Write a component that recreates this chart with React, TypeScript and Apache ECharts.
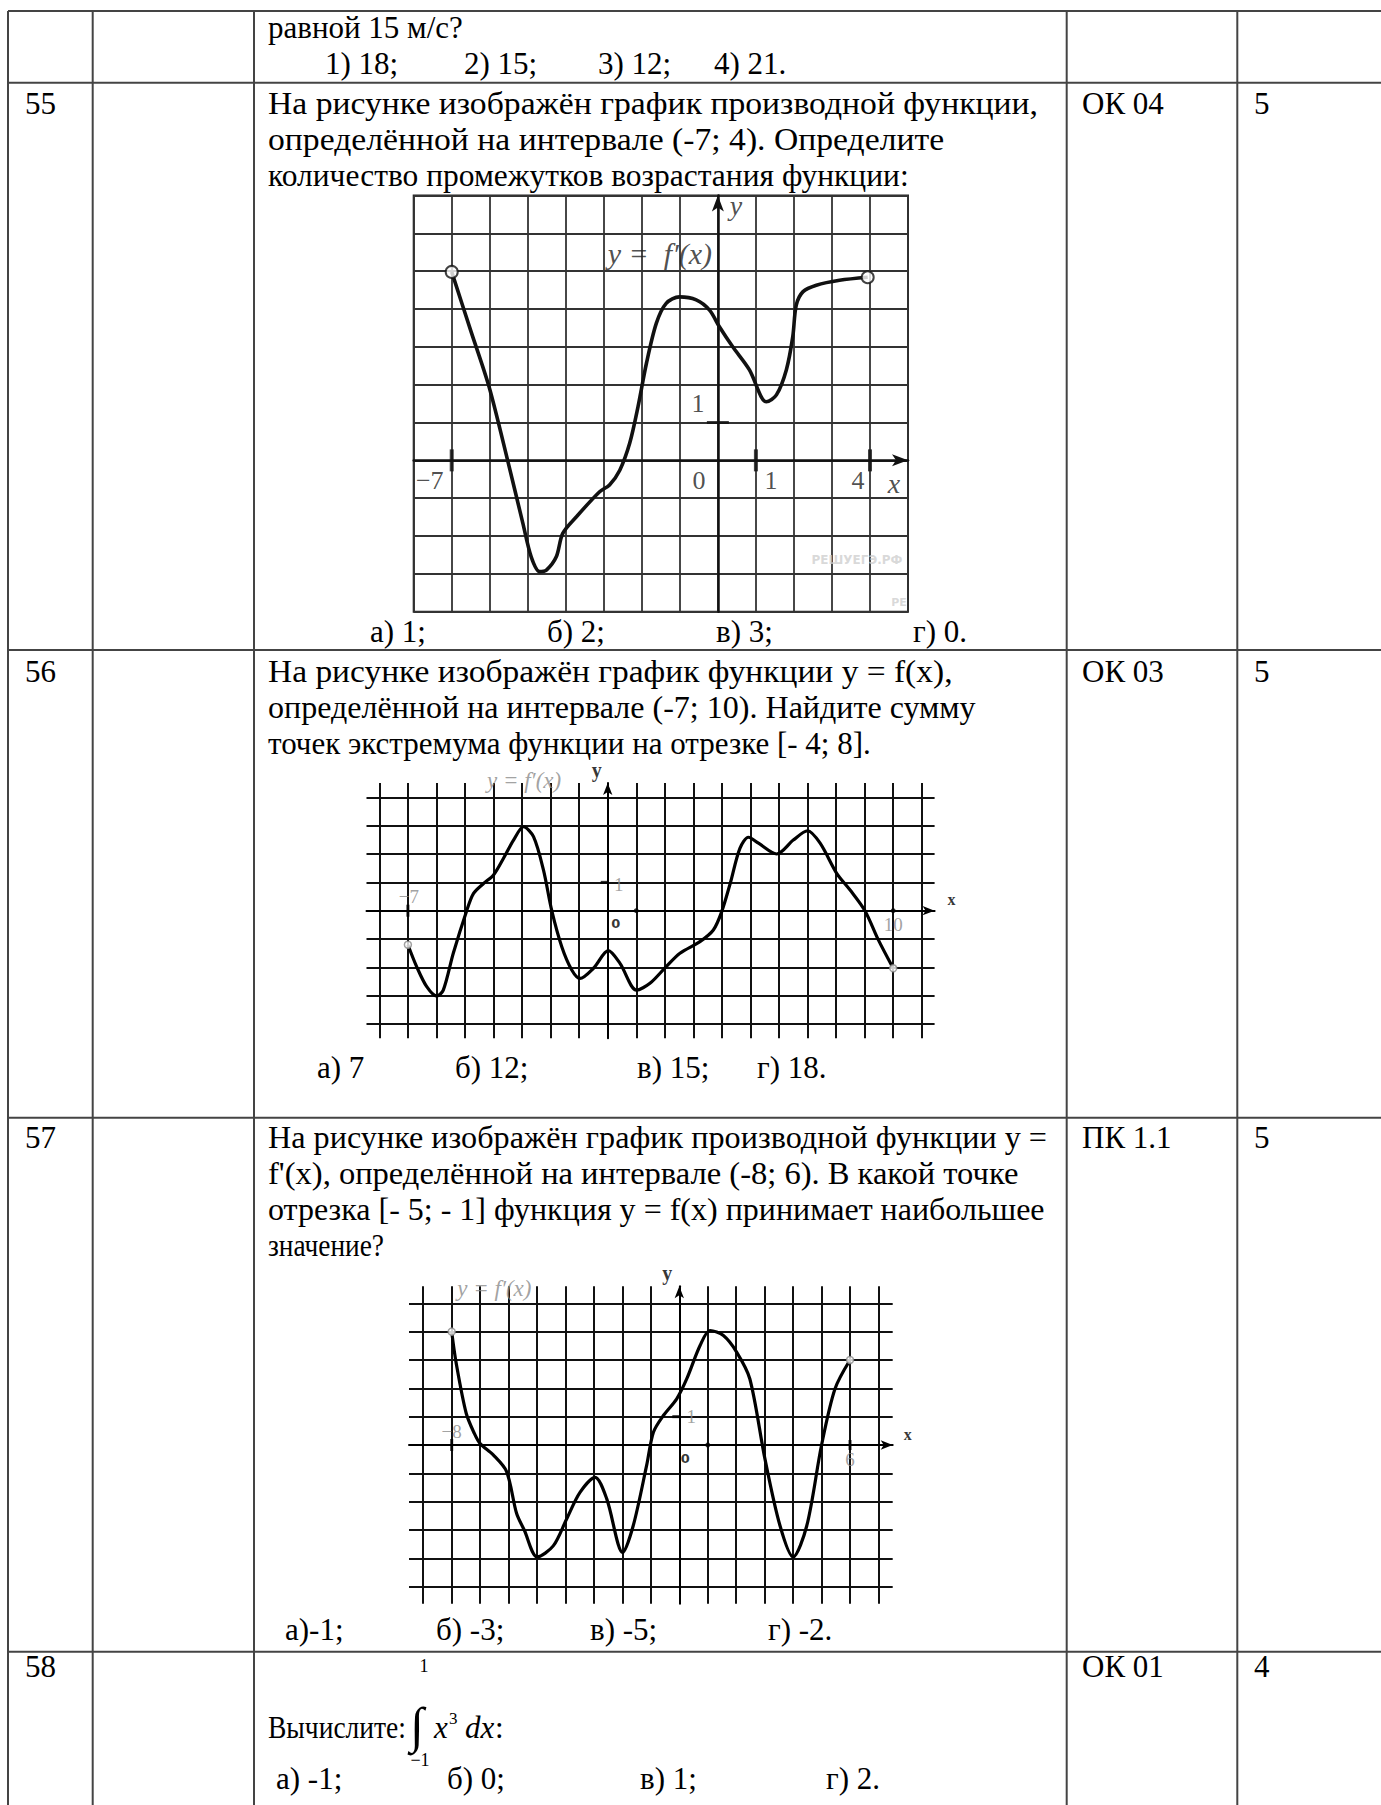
import React, { useEffect, useRef } from 'react';
import * as echarts from 'echarts';

// ---------------- table content ----------------
const rowNumbers = ['55', '56', '57', '58'];
const competenceCodes = ['ОК 04', 'ОК 03', 'ПК 1.1', 'ОК 01'];
const rowPoints = ['5', '5', '5', '4'];

const prevQuestionTail = 'равной 15 м/с?';
const prevAnswers = ['1) 18;', '2) 15;', '3) 12;', '4) 21.'];

const q55Lines = [
  'На рисунке изображён график производной функции,',
  'определённой на интервале (-7; 4). Определите',
  'количество промежутков возрастания функции:',
];
const q55Answers = ['а) 1;', 'б) 2;', 'в) 3;', 'г) 0.'];

const q56Lines = [
  'На рисунке изображён график функции y = f(x),',
  'определённой на интервале (-7; 10). Найдите сумму',
  'точек экстремума функции на отрезке [- 4; 8].',
];
const q56Answers = ['а) 7', 'б) 12;', 'в) 15;', 'г) 18.'];

const q57Lines = [
  'На рисунке изображён график производной функции y =',
  "f'(x), определённой на интервале (-8; 6). В какой точке",
  'отрезка [- 5; - 1] функция y = f(x) принимает наибольшее',
  'значение?',
];
const q57Answers = ['а)-1;', 'б) -3;', 'в) -5;', 'г) -2.'];

const q58Lead = 'Вычислите:';
const q58Answers = ['а) -1;', 'б) 0;', 'в) 1;', 'г) 2.'];

// ---------------- chart 1 (question 55) ----------------
const c1X = [-7, -6.5, -6.02, -5.52, -5.13, -4.91, -4.69, -4.51, -4.25, -4.08, -3.72, -3.11, -2.85, -2.58, -2.32, -2.1, -1.88, -1.62, -1.36, -1.01, -0.57, -0.22, 0.04, 0.39, 0.83, 1.14, 1.27, 1.54, 1.8, 1.97, 2.06, 2.24, 2.59, 3.2, 3.94];
const c1Y = [4.98, 3.43, 1.95, -0.04, -1.66, -2.55, -2.94, -2.9, -2.55, -1.93, -1.49, -0.83, -0.65, -0.26, 0.45, 1.42, 2.56, 3.62, 4.15, 4.32, 4.24, 3.97, 3.53, 3.0, 2.39, 1.68, 1.55, 1.73, 2.39, 3.27, 4.1, 4.46, 4.63, 4.76, 4.84];
const c1GridX = [-8, -7, -6, -5, -4, -3, -2, -1, 0, 1, 2, 3, 4, 5];
const c1GridY = [-4, -3, -2, -1, 0, 1, 2, 3, 4, 5, 6, 7];
const c1TickX = [-7, 1, 4];
const c1TickLabels = ['−7', '0', '1', '4'];

// ---------------- chart 2 (question 56) ----------------
const c2X = [-7, -6.69, -6.34, -5.99, -5.76, -5.41, -4.94, -4.7, -4.35, -4.0, -3.65, -3.3, -2.95, -2.6, -2.25, -1.96, -1.61, -1.26, -0.97, -0.5, 0.02, 0.43, 1.01, 1.48, 2.04, 2.53, 3.23, 3.7, 3.99, 4.29, 4.63, 4.93, 5.28, 5.92, 6.5, 7.0, 7.44, 8.02, 8.49, 9.01, 9.48, 10];
const c2Y = [-1.2, -1.98, -2.68, -3.01, -2.8, -1.5, 0, 0.61, 0.96, 1.26, 1.85, 2.49, 2.96, 2.61, 1.43, 0, -1.27, -2.09, -2.39, -2.03, -1.41, -1.86, -2.8, -2.56, -1.98, -1.5, -1.09, -0.68, -0.04, 0.96, 2.2, 2.59, 2.38, 2.0, 2.49, 2.82, 2.38, 1.32, 0.73, 0, -1.03, -2.03];
const c2GridX = [-8, -7, -6, -5, -4, -3, -2, -1, 0, 1, 2, 3, 4, 5, 6, 7, 8, 9, 10, 11];
const c2GridY = [-4, -3, -2, -1, 0, 1, 2, 3, 4];

// ---------------- chart 3 (question 57) ----------------
const c3X = [-8, -7.84, -7.49, -7.2, -7.0, -6.54, -6.07, -5.72, -5.45, -4.99, -4.43, -3.96, -3.49, -2.96, -2.55, -1.99, -1.62, -1.15, -0.91, -0.56, -0.09, 0.26, 0.73, 1.08, 1.55, 2.02, 2.48, 3.01, 3.54, 4.0, 4.48, 5.0, 5.47, 6];
const c3Y = [4.0, 2.88, 1.12, 0.4, 0.05, -0.35, -0.94, -2.41, -3.0, -3.95, -3.56, -2.61, -1.67, -1.14, -1.9, -3.79, -2.85, -0.73, 0.45, 1.04, 1.63, 2.33, 3.51, 4.04, 3.86, 3.27, 2.33, -0.49, -2.85, -3.95, -2.85, 0, 1.98, 3.0];
const c3GridX = [-9, -8, -7, -6, -5, -4, -3, -2, -1, 0, 1, 2, 3, 4, 5, 6, 7];
const c3GridY = [-5, -4, -3, -2, -1, 0, 1, 2, 3, 4, 5];

const curveName = 'y = f′(x)';

// ---------------- layout / style ----------------
const W = 1381;
const H = 1805;
const SERIF = '"Liberation Serif", "Times New Roman", serif';
const FS = 31;
const TABLE_X = [8, 92.7, 254, 1066.7, 1237.3];
const TABLE_Y = [11, 82.7, 650, 1117.7, 1651.7];
// right ends of the (justified) question lines, in page pixels; 0 = natural width
const END55 = [1038, 944, 909];
const END56 = [953, 976, 0];
const END57 = [1047, 1019, 1045, 384];

let measureCtx: CanvasRenderingContext2D | null = null;
function measure(text: string, font: string) {
  if (!measureCtx) measureCtx = document.createElement('canvas').getContext('2d');
  if (!measureCtx) return 0;
  measureCtx.font = font;
  return measureCtx.measureText(text).width;
}

function fontOf(size: number, extra: any = {}) {
  return [extra.fontStyle, extra.fontWeight, `${size}px`, SERIF].filter(Boolean).join(' ');
}

function txt(text: string, x: number, baseline: number, size = FS, extra: any = {}) {
  const font = fontOf(size, extra);
  let scaleX = 1;
  if (extra.endX) {
    const w = measure(text, font);
    if (w > 0) scaleX = Math.max(0.86, Math.min(1.15, (extra.endX - x) / w));
  }
  return {
    type: 'text',
    x,
    y: baseline - size * 0.34,
    scaleX,
    z: 10,
    style: {
      text,
      font,
      fill: extra.fill || '#000',
      align: extra.align || 'left',
      verticalAlign: 'middle',
    },
  };
}

function zip(xs: number[], ys: number[]) {
  return xs.map((x, i) => [x, ys[i]]);
}

function lbl(value: number[], text: string, offset: number[], style: any) {
  return {
    value,
    symbolSize: 0.1,
    itemStyle: { color: 'rgba(0,0,0,0)' },
    label: { show: true, position: 'inside', formatter: text, offset, ...style },
  };
}

function axisPair(idx: number, xr: number[], yr: number[], gx: number[], gy: number[], grid: any) {
  const common = (ticks: number[], min: number, max: number) => ({
    gridIndex: idx,
    type: 'value',
    min,
    max,
    axisLine: {
      show: true,
      onZero: true,
      symbol: ['none', 'arrow'],
      symbolSize: grid.arrow,
      lineStyle: { color: grid.axisColor, width: grid.axisWidth },
    },
    axisTick: { show: false, customValues: ticks },
    axisLabel: { show: false },
    splitLine: { show: true, lineStyle: { color: grid.lineColor, width: grid.lineWidth } },
  });
  return {
    x: common(gx, xr[0], xr[1]),
    y: common(gy, yr[0], yr[1]),
  };
}

function buildOption() {
  const graphic: any[] = [];
  // table lines
  TABLE_X.forEach((x) =>
    graphic.push({ type: 'line', z: 9, shape: { x1: x, y1: TABLE_Y[0], x2: x, y2: H }, style: { stroke: '#444', lineWidth: 2 } })
  );
  TABLE_Y.forEach((y) =>
    graphic.push({ type: 'line', z: 9, shape: { x1: TABLE_X[0], y1: y, x2: W, y2: y }, style: { stroke: '#444', lineWidth: 2 } })
  );

  // previous question tail
  graphic.push(txt(prevQuestionTail, 268, 38));
  const prevAnsX = [325, 464, 598, 714];
  prevAnswers.forEach((a, i) => graphic.push(txt(a, prevAnsX[i], 74)));

  // row headers / codes / points
  const rowBase = [114, 682, 1148, 1677];
  rowNumbers.forEach((n, i) => {
    graphic.push(txt(n, 25, rowBase[i]));
    graphic.push(txt(competenceCodes[i], 1082, rowBase[i]));
    graphic.push(txt(rowPoints[i], 1254, rowBase[i]));
  });

  // question texts
  q55Lines.forEach((l, i) => graphic.push(txt(l, 268, 114 + i * 36, FS, { endX: END55[i] })));
  q56Lines.forEach((l, i) => graphic.push(txt(l, 268, 682 + i * 36, FS, { endX: END56[i] })));
  q57Lines.forEach((l, i) => graphic.push(txt(l, 268, 1148 + i * 36, FS, { endX: END57[i] })));

  const a55X = [370, 547, 716, 913];
  q55Answers.forEach((a, i) => graphic.push(txt(a, a55X[i], 642)));
  const a56X = [317, 455, 637, 757];
  q56Answers.forEach((a, i) => graphic.push(txt(a, a56X[i], 1078)));
  const a57X = [285, 436, 590, 768];
  q57Answers.forEach((a, i) => graphic.push(txt(a, a57X[i], 1640)));
  const a58X = [276, 447, 640, 826];
  q58Answers.forEach((a, i) => graphic.push(txt(a, a58X[i], 1789)));

  // integral expression
  graphic.push(txt(q58Lead, 268, 1738, FS, { endX: 406 }));
  graphic.push(txt('∫', 410, 1742, 50));
  graphic.push(txt('1', 424, 1672, 18, { align: 'center' }));
  graphic.push(txt('−1', 420, 1766, 18, { align: 'center' }));
  graphic.push(txt('x', 434, 1738, FS, { fontStyle: 'italic' }));
  graphic.push(txt('3', 449, 1724, 17));
  graphic.push(txt('dx', 465, 1738, FS, { fontStyle: 'italic' }));
  graphic.push(txt(':', 495, 1738));

  // ---------------- grids ----------------
  const grids = [
    { left: 413.7, top: 195.5, width: 494.3, height: 416.2, show: true, borderColor: '#222', borderWidth: 2, backgroundColor: '#fff' },
    { left: 366.5, top: 783.1, width: 568.1, height: 255.2, show: true, borderWidth: 0, backgroundColor: '#fff' },
    { left: 409, top: 1286.3, width: 483.7, height: 317.4, show: true, borderWidth: 0, backgroundColor: '#fff' },
  ];

  const a1 = axisPair(0, [-8, 5], [-4, 7], c1GridX, c1GridY, { arrow: [9, 16], axisColor: '#111', axisWidth: 2.5, lineColor: '#333', lineWidth: 1.8 });
  const a2 = axisPair(1, [-8.45, 11.45], [-4.5, 4.5], c2GridX, c2GridY, { arrow: [7, 12], axisColor: '#000', axisWidth: 2, lineColor: '#111', lineWidth: 2 });
  const a3 = axisPair(2, [-9.5, 7.5], [-5.6, 5.6], c3GridX, c3GridY, { arrow: [7, 12], axisColor: '#000', axisWidth: 2, lineColor: '#111', lineWidth: 2 });

  const sLabel = (size: number, extra: any = {}) => ({ fontFamily: SERIF, fontSize: size, color: '#222', ...extra });
  const gLabel = (size: number, extra: any = {}) => ({ fontFamily: SERIF, fontSize: size, color: '#8a8a8a', ...extra });
  const zeroGlyph = { fontFamily: '"DejaVu Sans", sans-serif', fontSize: 13, fontWeight: 'bold', color: '#000' };

  const series: any[] = [];

  // chart 1
  series.push({
    type: 'line', xAxisIndex: 0, yAxisIndex: 0, data: zip(c1X, c1Y), symbol: 'none', smooth: 0.3,
    lineStyle: { color: '#111', width: 3.6 }, z: 3, silent: true,
  });
  series.push({
    type: 'scatter', xAxisIndex: 0, yAxisIndex: 0, z: 4, silent: true,
    data: [
      ...c1TickX.map((x) => ({ value: [x, 0], symbol: 'rect', symbolSize: [4, 22] })),
      { value: [0, 1], symbol: 'rect', symbolSize: [22, 3] },
    ],
    itemStyle: { color: '#111' },
  });
  series.push({
    type: 'scatter', xAxisIndex: 0, yAxisIndex: 0, z: 5, silent: true,
    data: [[c1X[0], c1Y[0]], [c1X[c1X.length - 1], c1Y[c1Y.length - 1]]],
    symbol: 'circle', symbolSize: 12,
    itemStyle: { color: '#fff', borderColor: '#111', borderWidth: 2 },
  });
  series.push({
    type: 'scatter', xAxisIndex: 0, yAxisIndex: 0, z: 6, silent: true,
    data: [
      lbl([-7, 0], c1TickLabels[0], [-22, 20], sLabel(26)),
      lbl([0, 0], c1TickLabels[1], [-19, 20], sLabel(26)),
      lbl([1, 0], c1TickLabels[2], [15, 20], sLabel(26)),
      lbl([4, 0], c1TickLabels[3], [-12, 20], sLabel(26)),
      lbl([0, 1], '1', [-20, -19], sLabel(26)),
      lbl([5, 0], 'x', [-14, 23], sLabel(28, { fontStyle: 'italic' })),
      lbl([0, 7], 'y', [18, 10], sLabel(28, { fontStyle: 'italic' })),
      lbl([0, 5.5], 'y =  f′(x)', [-58, 1], sLabel(30, { fontStyle: 'italic' })),
      lbl([4, -2.5], 'РЕШУЕГЭ.РФ', [-13, 5], { fontFamily: '"DejaVu Sans", sans-serif', fontSize: 12, fontWeight: 'bold', color: '#cfcfcf' }),
      lbl([5, -4], 'РЕ', [-9, -9], { fontFamily: '"DejaVu Sans", sans-serif', fontSize: 11, fontWeight: 'bold', color: '#cfcfcf' }),
    ],
  });

  // chart 2
  series.push({
    type: 'line', xAxisIndex: 1, yAxisIndex: 1, data: zip(c2X, c2Y), symbol: 'none', smooth: 0.3,
    lineStyle: { color: '#000', width: 3.2 }, z: 3, silent: true,
  });
  series.push({
    type: 'scatter', xAxisIndex: 1, yAxisIndex: 1, z: 4, silent: true,
    data: [
      { value: [-7, 0], symbol: 'rect', symbolSize: [3, 12] },
      { value: [1, 0], symbol: 'circle', symbolSize: 5 },
      { value: [10, 0], symbol: 'circle', symbolSize: 5 },
      { value: [0, 1], symbol: 'rect', symbolSize: [8, 3], symbolOffset: [-3, 0] },
    ],
    itemStyle: { color: '#000' },
  });
  series.push({
    type: 'scatter', xAxisIndex: 1, yAxisIndex: 1, z: 5, silent: true,
    data: [[c2X[0], c2Y[0]], [c2X[c2X.length - 1], c2Y[c2Y.length - 1]]],
    symbol: 'circle', symbolSize: 7,
    itemStyle: { color: '#fff', borderColor: '#888', borderWidth: 1.5 },
  });
  series.push({
    type: 'scatter', xAxisIndex: 1, yAxisIndex: 1, z: 6, silent: true,
    data: [
      lbl([-3, 4.5], curveName, [2, -3], gLabel(23, { fontStyle: 'italic' })),
      lbl([-7, 0], '−7', [1, -14], gLabel(19)),
      lbl([0, 1], '1', [11, 2], gLabel(19)),
      lbl([0, 0], '0', [8, 13], zeroGlyph),
      lbl([10, 0], '10', [0, 14], gLabel(19)),
      lbl([0, 4.5], 'y', [-11, -13], sLabel(20, { fontWeight: 'bold', color: '#000' })),
      lbl([11.45, 0], 'x', [17, -11], sLabel(16, { fontWeight: 'bold', color: '#000' })),
    ],
  });

  // chart 3
  series.push({
    type: 'line', xAxisIndex: 2, yAxisIndex: 2, data: zip(c3X, c3Y), symbol: 'none', smooth: 0.3,
    lineStyle: { color: '#000', width: 3.2 }, z: 3, silent: true,
  });
  series.push({
    type: 'scatter', xAxisIndex: 2, yAxisIndex: 2, z: 4, silent: true,
    data: [
      { value: [-8, 0], symbol: 'rect', symbolSize: [3, 12] },
      { value: [1, 0], symbol: 'circle', symbolSize: 5 },
      { value: [6, 0], symbol: 'rect', symbolSize: [3, 10] },
      { value: [0, 1], symbol: 'rect', symbolSize: [8, 3], symbolOffset: [-3, 0] },
    ],
    itemStyle: { color: '#000' },
  });
  series.push({
    type: 'scatter', xAxisIndex: 2, yAxisIndex: 2, z: 5, silent: true,
    data: [[c3X[0], c3Y[0]], [c3X[c3X.length - 1], c3Y[c3Y.length - 1]]],
    symbol: 'circle', symbolSize: 7,
    itemStyle: { color: '#fff', borderColor: '#888', borderWidth: 1.5 },
  });
  series.push({
    type: 'scatter', xAxisIndex: 2, yAxisIndex: 2, z: 6, silent: true,
    data: [
      lbl([-6.5, 5.6], curveName, [0, 2], gLabel(23, { fontStyle: 'italic' })),
      lbl([-8, 0], '−8', [0, -14], gLabel(19)),
      lbl([0, 1], '1', [12, 0], gLabel(19)),
      lbl([0, 0], '0', [6, 13], zeroGlyph),
      lbl([6, 0], '6', [0, 14], gLabel(19)),
      lbl([0, 5.6], 'y', [-12, -13], sLabel(20, { fontWeight: 'bold', color: '#000' })),
      lbl([7.5, 0], 'x', [15, -11], sLabel(16, { fontWeight: 'bold', color: '#000' })),
    ],
  });

  return {
    animation: false,
    backgroundColor: '#fff',
    tooltip: { show: false },
    grid: grids,
    xAxis: [a1.x, a2.x, a3.x],
    yAxis: [a1.y, a2.y, a3.y],
    series,
    graphic,
  };
}

export default function App() {
  const ref = useRef<HTMLDivElement>(null);
  useEffect(() => {
    document.body.style.margin = '0';
    document.body.style.overflow = 'hidden';
    const chart = echarts.init(ref.current as HTMLDivElement, null, { renderer: 'svg', width: W, height: H });
    chart.setOption(buildOption() as any);
    return () => chart.dispose();
  }, []);
  return <div ref={ref} style={{ width: W, height: H, background: '#fff' }} />;
}
